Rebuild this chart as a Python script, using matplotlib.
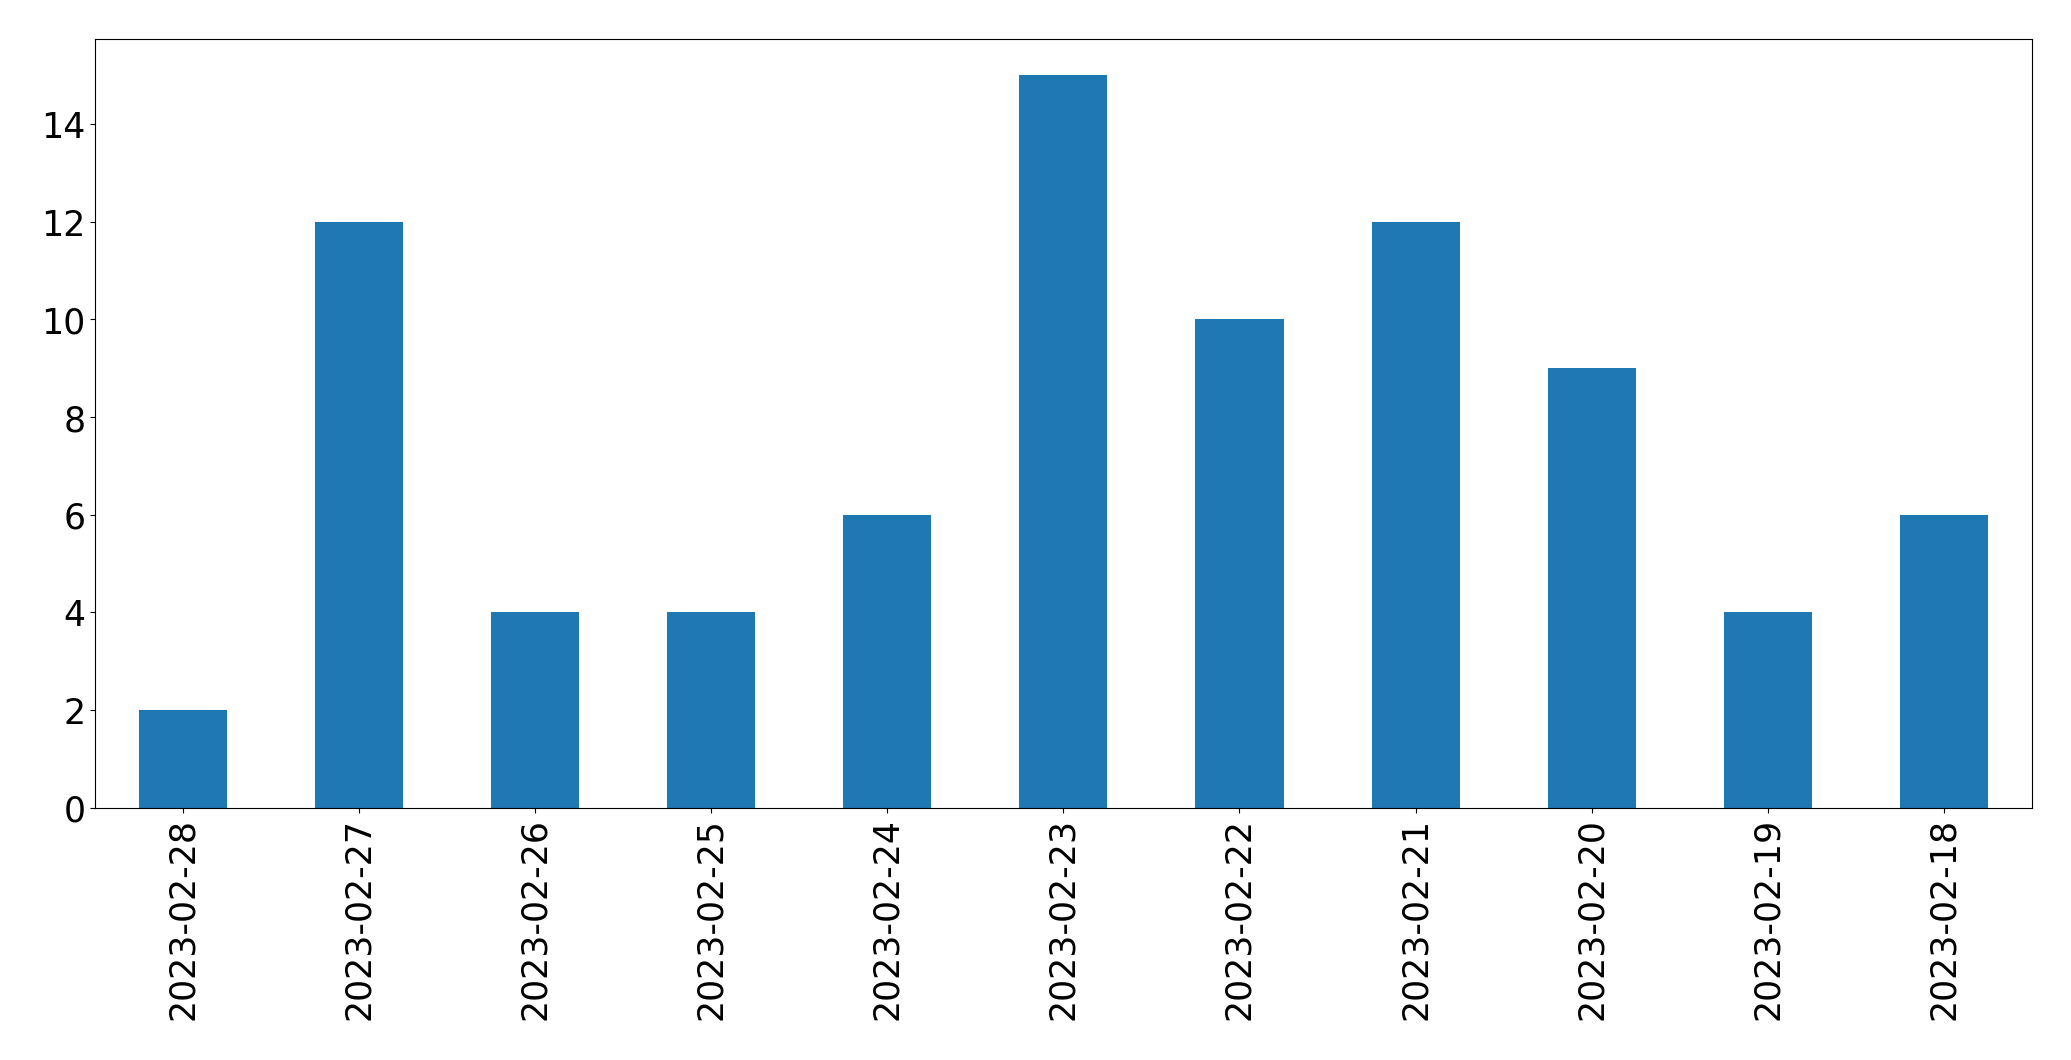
import matplotlib
matplotlib.use('Agg')
import matplotlib.pyplot as plt
import numpy as np

dates = ['2023-02-28', '2023-02-27', '2023-02-26', '2023-02-25', '2023-02-24',
         '2023-02-23', '2023-02-22', '2023-02-21', '2023-02-20', '2023-02-19',
         '2023-02-18']
counts = [2, 12, 4, 4, 6, 15, 10, 12, 9, 4, 6]

matplotlib.rcParams['font.size'] = 25

fig, ax = plt.subplots(figsize=(20.71, 10.605), dpi=100)
x = np.arange(len(dates))
ax.bar(x, counts, width=0.5, color='#1f77b4')
ax.set_xticks(x)
ax.set_xticklabels(dates, rotation=90)
ax.set_xlim(-0.5, len(dates) - 0.5)

fig.subplots_adjust(left=0.046, right=0.981, top=0.963, bottom=0.238)
fig.savefig('out.png')
